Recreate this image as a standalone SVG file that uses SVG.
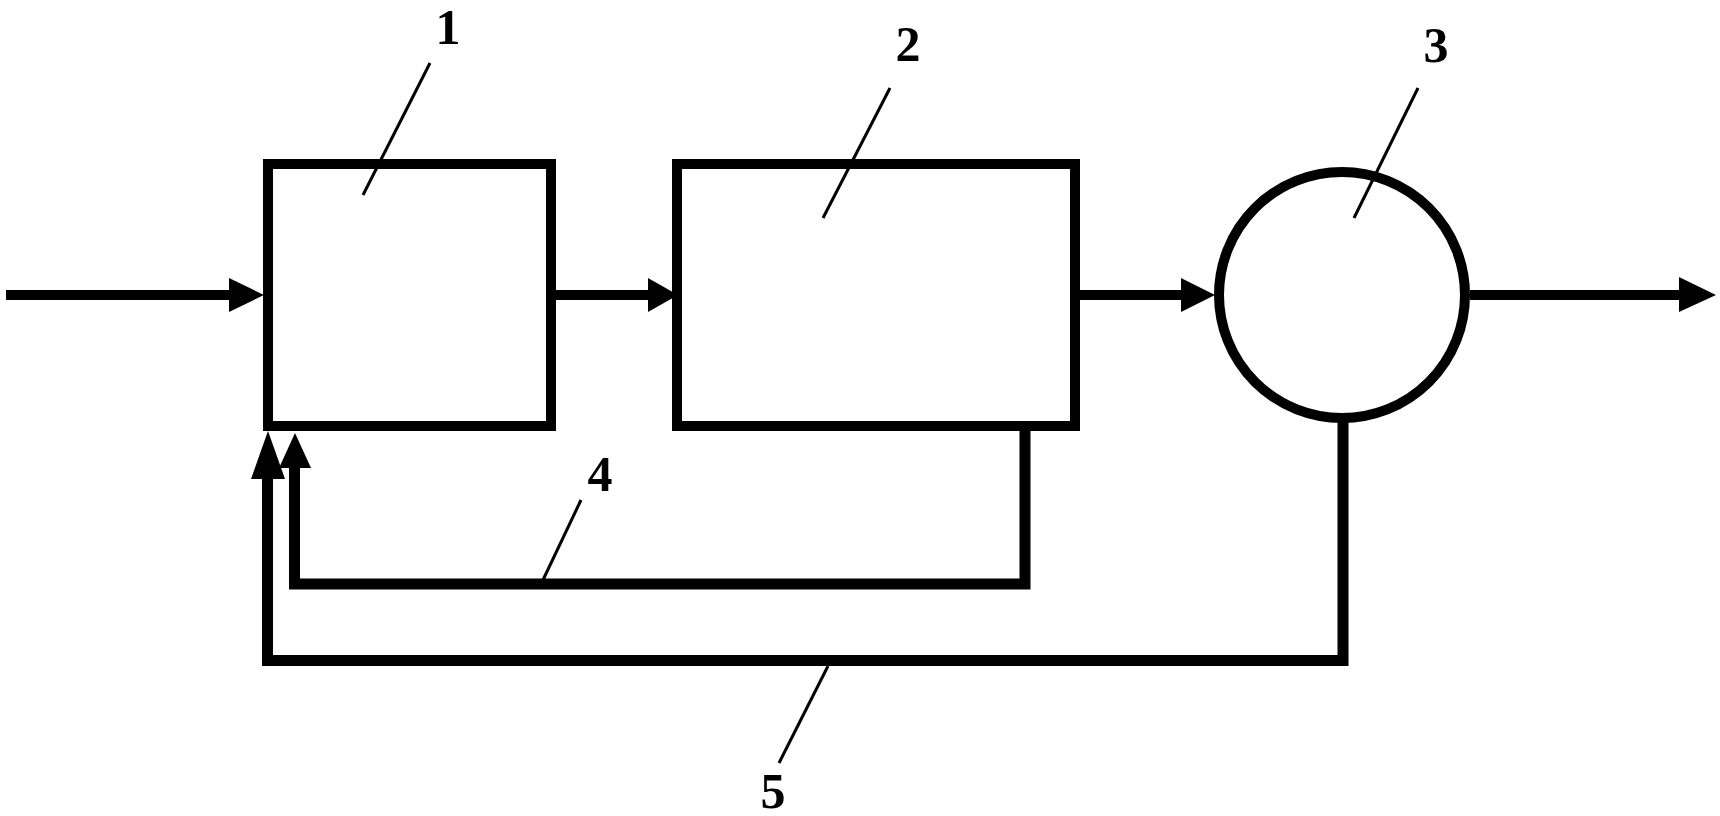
<svg xmlns="http://www.w3.org/2000/svg" width="1720" height="816" viewBox="0 0 1720 816">
  <style>
    .node { fill: none; stroke: #000; stroke-width: 10; }
    .wire { fill: none; stroke: #000; stroke-width: 10; stroke-linejoin: miter; }
    .fb { fill: none; stroke: #000; stroke-width: 11; stroke-linejoin: miter; }
    .head { fill: #000; stroke: none; }
    .leader { stroke: #000; stroke-width: 3; fill: none; }
    .lbl { font-family: "Liberation Serif", "Times New Roman", serif; font-weight: bold; font-size: 50px; fill: #000; text-anchor: middle; }
  </style>
  <rect width="1720" height="816" fill="#fff"/>

  <g id="node-1">
    <rect class="node" x="268" y="164" width="283" height="262"/>
    <line class="leader" x1="430" y1="63" x2="363" y2="195"/>
    <text class="lbl" x="448" y="44">1</text>
  </g>

  <g id="node-2">
    <rect class="node" x="677" y="164" width="398" height="262"/>
    <line class="leader" x1="890" y1="88" x2="823" y2="218"/>
    <text class="lbl" x="908" y="61">2</text>
  </g>

  <g id="node-3">
    <circle class="node" cx="1342" cy="295" r="123"/>
    <line class="leader" x1="1418" y1="88" x2="1354" y2="218"/>
    <text class="lbl" x="1436" y="62">3</text>
  </g>

  <g id="connectors">
    <line class="wire" x1="6" y1="295" x2="232" y2="295"/>
    <polygon class="head" points="264,295 229,278 229,312"/>
    <line class="wire" x1="556" y1="295" x2="651" y2="295"/>
    <polygon class="head" points="678,295 648,278 648,312"/>
    <line class="wire" x1="1080" y1="295" x2="1184" y2="295"/>
    <polygon class="head" points="1215,295 1181,278 1181,312"/>
    <line class="wire" x1="1470" y1="295" x2="1682" y2="295"/>
    <polygon class="head" points="1716,295 1679,277 1679,312"/>

    <g id="feedback-4">
      <polyline class="fb" points="1025,431 1025,584 294.5,584 294.5,466"/>
      <polygon class="head" points="295,433 279,468 311,468"/>
      <line class="leader" x1="581" y1="500" x2="543" y2="580"/>
      <text class="lbl" x="600" y="491">4</text>
    </g>

    <g id="feedback-5">
      <polyline class="fb" points="1343,422 1343,660.5 267.5,660.5 267.5,477"/>
      <polygon class="head" points="268,431 251,479 285,479"/>
      <line class="leader" x1="828" y1="666" x2="779" y2="763"/>
      <text class="lbl" x="773" y="808">5</text>
    </g>
  </g>
</svg>
